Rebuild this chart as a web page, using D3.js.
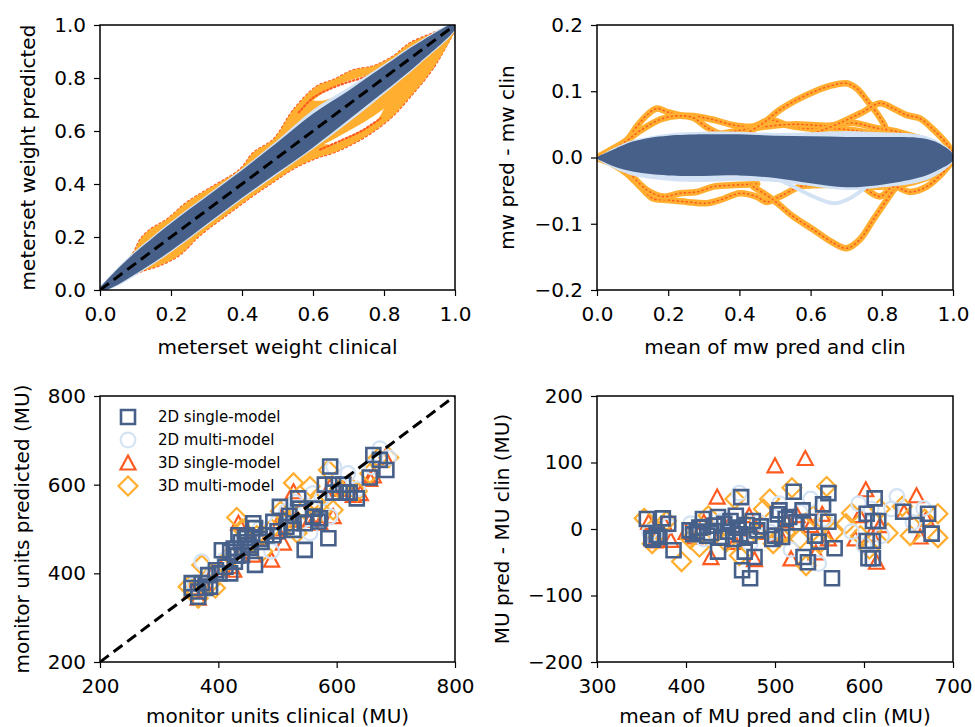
<!DOCTYPE html>
<html>
<head>
<meta charset="utf-8">
<style>
  body { margin: 0; background: #fff; }
  svg text { font-family: "DejaVu Sans", sans-serif; fill: #000; }
  .tick line { stroke: #000; stroke-width: 1.2; }
</style>
</head>
<body>
<script src="https://d3js.org/d3.v7.min.js"></script>
<script>
  // colours of the four models
  const colSquare = '#46608a';
  const colCircle = '#d3e3f5';
  const colTriangle = '#ff5a1f';
  const colDiamond = '#ffae30';

  const legendLabels = ['2D single-model', '2D multi-model', '3D single-model', '3D multi-model'];

  // ---- top-left: meterset weight predicted vs clinical (envelopes)
  const tlOrangeUpper = [[0,0],[.05,.07],[.094,.14],[.113,.19],[.141,.228],[.188,.266],[.244,.33],[.319,.392],[.394,.455],[.432,.518],[.488,.568],[.545,.68],[.61,.768],[.657,.793],[.714,.83],[.77,.845],[.826,.882],[.873,.932],[.939,.97],[1,1.005]];
  const tlOrangeLower = [[0,-.008],[.047,.022],[.113,.068],[.169,.093],[.225,.133],[.282,.207],[.357,.283],[.432,.357],[.488,.408],[.545,.458],[.61,.498],[.657,.518],[.714,.553],[.77,.598],[.826,.658],[.873,.728],[.939,.838],[1,.982]];
  const tlHoleUpperTop = [[.6,.715],[.63,.745],[.66,.768],[.70,.79],[.74,.805],[.765,.81]];
  const tlHoleUpperBottom = [[.6,.715],[.63,.715],[.66,.73],[.70,.76],[.74,.79],[.765,.81]];
  const tlHoleLowerTop = [[.63,.55],[.66,.57],[.70,.60],[.74,.63],[.78,.665],[.80,.685]];
  const tlHoleLowerBottom = [[.63,.55],[.66,.55],[.70,.578],[.74,.605],[.78,.64],[.80,.685]];
  const tlRedUpper = [[.56,.67],[.6,.725],[.65,.76],[.7,.785],[.75,.805],[.78,.825]];
  const tlRedLower = [[.62,.53],[.68,.565],[.74,.603],[.79,.648]];
  const tlLightUpper = [[0,.012],[.05,.085],[.1,.148],[.2,.258],[.3,.358],[.4,.458],[.5,.565],[.6,.68],[.7,.765],[.8,.852],[.9,.94],[1,1.008]];
  const tlLightLower = [[0,-.012],[.05,.015],[.1,.055],[.2,.142],[.3,.242],[.4,.342],[.5,.437],[.6,.532],[.7,.632],[.8,.74],[.9,.852],[1,.98]];
  const tlDarkUpper = [[0,.01],[.05,.08],[.1,.142],[.2,.252],[.3,.352],[.4,.452],[.5,.558],[.6,.665],[.7,.752],[.8,.845],[.9,.935],[1,1.005]];
  const tlDarkLower = [[0,-.01],[.05,.02],[.1,.06],[.2,.148],[.3,.248],[.4,.348],[.5,.443],[.6,.538],[.7,.642],[.8,.748],[.9,.858],[1,.985]];

  // ---- top-right: mw difference vs mean
  const trOrangeCurves = [
    [[0,0],[.046,.014],[.083,.026],[.112,.047],[.14,.064],[.168,.074],[.196,.069],[.233,.064],[.28,.062],[.327,.057],[.383,.049],[.439,.047],[.486,.057],[.533,.049],[.589,.044],[.654,.044],[.72,.041],[.776,.036],[.842,.031],[.907,.026],[.963,.016],[1,.001]],
    [[0,0],[.07,.02],[.12,.04],[.18,.058],[.23,.063],[.27,.06],[.31,.045],[.35,.035],[.45,.03]],
    [[.35,.036],[.45,.045],[.55,.05],[.65,.048],[.72,.052],[.78,.045],[.85,.038],[.95,.02],[1,.003]],
    [[.42,.036],[.467,.052],[.514,.072],[.561,.087],[.608,.099],[.654,.108],[.701,.112],[.73,.104],[.757,.087],[.786,.067],[.809,.047],[.823,.027],[.851,.017]],
    [[.608,.036],[.682,.052],[.748,.069],[.795,.082],[.832,.074],[.87,.064],[.907,.059],[.945,.042],[.982,.021],[1,.006]],
    [[0,-.001],[.046,-.011],[.083,-.024],[.121,-.044],[.158,-.062],[.196,-.064],[.252,-.067],[.308,-.069],[.346,-.064],[.402,-.054],[.448,-.059],[.477,-.067],[.514,-.059],[.57,-.044],[.608,-.042],[.701,-.042],[.795,-.044],[.889,-.037],[.963,-.022],[1,-.004]],
    [[.093,-.024],[.14,-.049],[.186,-.059],[.233,-.054],[.28,-.052],[.327,-.044],[.374,-.042],[.45,-.04]],
    [[.439,-.044],[.495,-.064],[.551,-.089],[.608,-.109],[.664,-.129],[.701,-.137],[.738,-.124],[.776,-.094],[.814,-.064],[.842,-.044],[.879,-.034]],
    [[.748,-.044],[.795,-.059],[.832,-.044],[.879,-.052],[.926,-.044],[.973,-.022],[1,-.004]]
  ];
  const trLightDip = [[.514,-.034],[.57,-.049],[.608,-.059],[.664,-.069],[.701,-.064],[.738,-.052],[.767,-.039]];
  const trLightUpper = [[0,0],[.05,.015],[.1,.026],[.2,.036],[.3,.039],[.4,.039],[.5,.037],[.6,.038],[.7,.04],[.8,.038],[.9,.035],[.95,.027],[1,.006]];
  const trLightLower = [[0,-.003],[.05,-.017],[.1,-.027],[.2,-.035],[.3,-.037],[.4,-.035],[.5,-.037],[.6,-.043],[.7,-.049],[.8,-.045],[.9,-.038],[.95,-.028],[1,-.006]];
  const trDarkUpper = [[0,.001],[.05,.013],[.1,.024],[.15,.03],[.2,.033],[.3,.035],[.4,.035],[.5,.033],[.6,.032],[.7,.031],[.8,.031],[.9,.03],[.95,.024],[1,.005]];
  const trDarkLower = [[0,-.002],[.05,-.014],[.1,-.021],[.15,-.025],[.2,-.027],[.3,-.028],[.4,-.027],[.5,-.031],[.6,-.039],[.7,-.045],[.8,-.041],[.9,-.031],[.95,-.021],[1,-.004]];

  // ---- bottom-left: MU predicted vs MU clinical  [clinical, predicted]
  const muSquare = [[662,667],[673,656],[684,633],[589,641],[586,479],[634,569],[580,600],[594,600],[611,600],[605,582],[617,582],[656,616],[535,569],[504,550],[515,505],[527,513],[546,513],[546,453],[560,528],[569,517],[481,486],[493,486],[462,502],[459,513],[445,479],[434,486],[406,452],[420,448],[426,456],[440,441],[462,419],[428,426],[396,407],[402,400],[420,400],[383,396],[372,378],[355,378],[355,367],[366,359],[366,347],[386,370],[378,367],[448,486],[451,464],[473,471],[493,516],[538,546],[563,546],[572,524],[527,498],[594,582],[622,582],[438,470],[455,458],[470,478],[500,495],[520,530],[432,440],[412,415]];
  const muCircle = [[360,375],[372,426],[390,395],[410,430],[425,445],[440,470],[455,480],[470,500],[490,450],[500,515],[515,540],[530,560],[555,491],[560,580],[575,570],[589,528],[595,640],[605,600],[619,625],[635,590],[660,640],[673,681],[688,661]];
  const muTriangle = [[355,360],[366,344],[378,370],[390,400],[405,410],[420,415],[426,407],[434,513],[440,450],[452,470],[459,441],[470,480],[490,430],[498,500],[507,528],[510,468],[520,520],[527,584],[540,545],[555,520],[566,530],[572,513],[589,596],[594,528],[600,590],[612,590],[628,576],[640,580],[656,612],[662,620],[682,661]];
  const muDiamond = [[349,370],[358,365],[366,344],[372,419],[385,375],[395,367],[410,420],[420,440],[431,526],[440,500],[455,470],[465,485],[475,450],[490,500],[505,540],[515,520],[527,604],[533,491],[545,545],[555,596],[565,560],[575,540],[586,633],[594,543],[605,590],[620,600],[635,585],[656,625],[670,660],[688,661]];

  // ---- bottom-right: MU difference vs mean  [mean, difference]
  const baSquare = [[356,15],[361,-14],[363,-16],[367,-9],[370,-12],[374,16],[380,8],[386,-32],[404,-2],[408,-8],[412,-4],[415,2],[419,3],[419,15],[424,-10],[428,-6],[432,5],[436,18],[436,-34],[440,-12],[443,8],[447,-4],[450,12],[453,-15],[456,20],[458,2],[461,-8],[462,48],[463,-62],[466,-34],[468,6],[471,-10],[472,-74],[475,12],[477,-42],[480,-2],[484,4],[497,-15],[500,-10],[503,22],[505,28],[508,-12],[512,15],[516,18],[521,56],[524,10],[531,28],[532,-42],[537,-50],[538,11],[545,-10],[549,-19],[554,37],[560,54],[560,11],[564,-74],[567,-29],[603,23],[603,-18],[605,-44],[610,12],[610,-18],[610,-44],[612,46],[616,12],[644,26],[659,6],[672,23],[676,-7]];
  const baCircle = [[359,-5],[368,-12],[380,5],[405,8],[420,-15],[440,12],[452,-2],[460,54],[472,-22],[482,10],[495,-5],[505,38],[518,-31],[528,25],[540,45],[549,-52],[556,15],[586,-4],[594,38],[600,-25],[608,30],[620,-10],[631,30],[637,49],[655,10],[667,31]];
  const baTriangle = [[358,10],[375,9],[383,-17],[365,-18],[400,-5],[410,-12],[420,10],[428,-43],[435,48],[440,-5],[448,5],[455,-20],[462,-10],[471,20],[477,-46],[485,-5],[500,95],[505,-8],[512,12],[518,-45],[525,20],[534,106],[540,5],[546,-36],[553,22],[560,-15],[590,-15],[595,20],[602,59],[608,-8],[614,-50],[618,5],[645,25],[659,50],[663,-12],[670,15]];
  const baDiamond = [[353,16],[362,-22],[370,-5],[378,12],[395,-49],[405,-15],[415,-27],[425,20],[432,-5],[445,-20],[455,45],[460,-40],[468,5],[478,-5],[487,30],[494,45],[498,-22],[506,-10],[512,-5],[519,62],[528,-15],[535,-55],[543,20],[550,-22],[554,13],[558,64],[566,-5],[580,8],[586,24],[596,-10],[606,-30],[618,30],[627,-6],[643,34],[652,-10],[668,15],[683,23],[683,-13]];

  const svg = d3.select('body').append('svg')
    .attr('width', 975)
    .attr('height', 727);

  let clipId = 0;

  // one set of axes
  function makePanel(box, xDomain, yDomain, xTicks, yTicks, fmt, xLabel, yLabel, yLabelX, xLabelY) {
    const x = d3.scaleLinear().domain(xDomain).range([box.x0, box.x1]);
    const y = d3.scaleLinear().domain(yDomain).range([box.y1, box.y0]);
    const id = 'clip' + (clipId++);
    svg.append('clipPath').attr('id', id)
      .append('rect')
      .attr('x', box.x0).attr('y', box.y0)
      .attr('width', box.x1 - box.x0).attr('height', box.y1 - box.y0);
    const plot = svg.append('g').attr('clip-path', `url(#${id})`);

    const xAxis = svg.append('g')
      .attr('transform', `translate(0,${box.y1})`)
      .call(d3.axisBottom(x).tickValues(xTicks).tickFormat(d3.format(fmt)).tickSize(6).tickPadding(11));
    const yAxis = svg.append('g')
      .attr('transform', `translate(${box.x0},0)`)
      .call(d3.axisLeft(y).tickValues(yTicks).tickFormat(d3.format(fmt)).tickSize(6).tickPadding(8));
    [xAxis, yAxis].forEach(a => {
      a.select('.domain').remove();
      a.selectAll('text').style('font-size', '20px').style('font-family', '"DejaVu Sans", sans-serif');
    });

    svg.append('text')
      .attr('x', (box.x0 + box.x1) / 2).attr('y', xLabelY)
      .attr('dy', '0.35em').attr('text-anchor', 'middle')
      .style('font-size', '20px')
      .text(xLabel);
    svg.append('text')
      .attr('transform', `translate(${yLabelX},${(box.y0 + box.y1) / 2}) rotate(-90)`)
      .attr('dy', '0.35em').attr('text-anchor', 'middle')
      .style('font-size', '20px')
      .text(yLabel);

    return { x, y, plot, box };
  }

  function frame(p) {
    svg.append('rect')
      .attr('x', p.box.x0).attr('y', p.box.y0)
      .attr('width', p.box.x1 - p.box.x0).attr('height', p.box.y1 - p.box.y0)
      .attr('fill', 'none').attr('stroke', '#000').attr('stroke-width', 1.5);
  }

  function lineGen(p) {
    return d3.line().x(d => p.x(d[0])).y(d => p.y(d[1])).curve(d3.curveCatmullRom);
  }

  function band(p, upper, lower, fill) {
    p.plot.append('path')
      .attr('d', lineGen(p)(upper.concat(lower.slice().reverse())) + 'Z')
      .attr('fill', fill);
  }

  function curve(p, pts, color, width, dash) {
    p.plot.append('path')
      .attr('d', lineGen(p)(pts))
      .attr('fill', 'none')
      .attr('stroke', color)
      .attr('stroke-width', width)
      .attr('stroke-linecap', 'round')
      .attr('stroke-linejoin', 'round')
      .attr('stroke-dasharray', dash || null);
  }

  function diagonal(p, a, b) {
    p.plot.append('line')
      .attr('x1', p.x(a)).attr('y1', p.y(a))
      .attr('x2', p.x(b)).attr('y2', p.y(b))
      .attr('stroke', '#000').attr('stroke-width', 3)
      .attr('stroke-dasharray', '11,6');
  }

  // marker shapes
  const markers = {
    square: { path: 'M-7,-7H7V7H-7Z', color: colSquare, width: 2.6 },
    circle: { path: d3.symbol(d3.symbolCircle, 170)(), color: colCircle, width: 2.2 },
    triangle: { path: 'M0,-7.5L7.5,6.5H-7.5Z', color: colTriangle, width: 2.2 },
    diamond: { path: 'M0,-9.5L9.5,0L0,9.5L-9.5,0Z', color: colDiamond, width: 2.2 }
  };

  function scatter(p, data, kind) {
    const m = markers[kind];
    p.plot.append('g').selectAll('path')
      .data(data)
      .join('path')
      .attr('transform', d => `translate(${p.x(d[0])},${p.y(d[1])})`)
      .attr('d', m.path)
      .attr('fill', 'none')
      .attr('stroke', m.color)
      .attr('stroke-width', m.width);
  }

  // ---------- panel 1
  const p1 = makePanel({ x0: 100, x1: 455, y0: 25, y1: 290 }, [0, 1], [0, 1],
    [0, .2, .4, .6, .8, 1], [0, .2, .4, .6, .8, 1], '.1f',
    'meterset weight clinical', 'meterset weight predicted', 28, 347);
  curve(p1, tlOrangeUpper, colTriangle, 2, '1.5,3');
  curve(p1, tlOrangeLower, colTriangle, 2, '1.5,3');
  band(p1, tlOrangeUpper, tlOrangeLower, colDiamond);
  band(p1, tlHoleUpperTop, tlHoleUpperBottom, '#fff');
  band(p1, tlHoleLowerTop, tlHoleLowerBottom, '#fff');
  curve(p1, tlRedUpper, colTriangle, 2.2, '1.5,2.5');
  curve(p1, tlRedLower, colTriangle, 2.2, '1.5,2.5');
  band(p1, tlLightUpper, tlLightLower, colCircle);
  band(p1, tlDarkUpper, tlDarkLower, colSquare);
  diagonal(p1, 0, 1);
  frame(p1);

  // ---------- panel 2
  const p2 = makePanel({ x0: 597, x1: 953, y0: 25, y1: 290 }, [0, 1], [-0.2, 0.2],
    [0, .2, .4, .6, .8, 1], [-0.2, -0.1, 0, 0.1, 0.2], '.1f',
    'mean of mw pred and clin', 'mw pred - mw clin', 507, 347);
  trOrangeCurves.forEach(c => {
    curve(p2, c, colDiamond, 6.5);
    curve(p2, c, colTriangle, 1.6, '1,3.5');
  });
  curve(p2, trLightDip, colCircle, 4, '3,1.5');
  band(p2, trLightUpper, trLightLower, colCircle);
  band(p2, trDarkUpper, trDarkLower, colSquare);
  frame(p2);

  // ---------- panel 3
  const p3 = makePanel({ x0: 100, x1: 455, y0: 396, y1: 662 }, [200, 800], [200, 800],
    [200, 400, 600, 800], [200, 400, 600, 800], 'd',
    'monitor units clinical (MU)', 'monitor units predicted (MU)', 22, 716);
  scatter(p3, muTriangle, 'triangle');
  scatter(p3, muDiamond, 'diamond');
  scatter(p3, muCircle, 'circle');
  scatter(p3, muSquare, 'square');
  diagonal(p3, 200, 800);
  frame(p3);

  // legend
  const legendKinds = ['square', 'circle', 'triangle', 'diamond'];
  const legend = svg.append('g');
  legendKinds.forEach((k, i) => {
    const yy = 417 + i * 23;
    const m = markers[k];
    legend.append('path')
      .attr('transform', `translate(128,${yy})`)
      .attr('d', m.path)
      .attr('fill', 'none')
      .attr('stroke', m.color)
      .attr('stroke-width', m.width);
    legend.append('text')
      .attr('x', 158).attr('y', yy)
      .attr('dy', '0.35em')
      .style('font-size', '15px')
      .text(legendLabels[i]);
  });

  // ---------- panel 4
  const p4 = makePanel({ x0: 597, x1: 953, y0: 396, y1: 662 }, [300, 700], [-200, 200],
    [300, 400, 500, 600, 700], [-200, -100, 0, 100, 200], 'd',
    'mean of MU pred and clin (MU)', 'MU pred - MU clin (MU)', 502, 716);
  scatter(p4, baTriangle, 'triangle');
  scatter(p4, baDiamond, 'diamond');
  scatter(p4, baCircle, 'circle');
  scatter(p4, baSquare, 'square');
  frame(p4);
</script>
</body>
</html>
